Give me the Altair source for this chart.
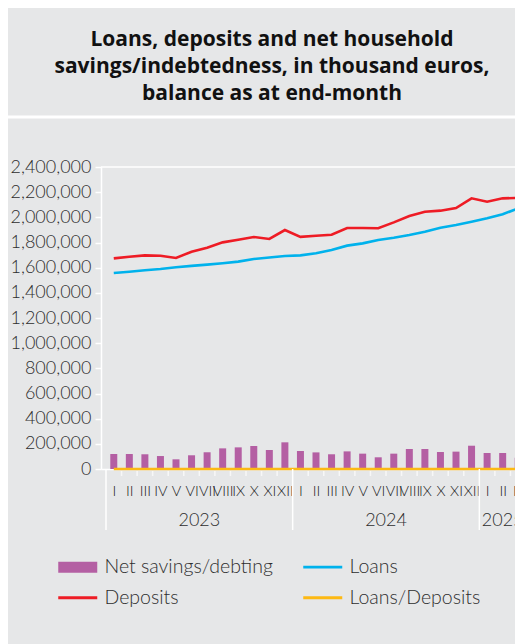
import json
import altair as alt
import pandas as pd

# ---------------- data ----------------
years = ["2023"] * 12 + ["2024"] * 12 + ["2025"] * 3
months = ["I", "II", "III", "IV", "V", "VI", "VII", "VIII", "IX", "X", "XI", "XII"] * 2 + ["I", "II", "III"]

deposits = [1674000, 1687000, 1698000, 1695000, 1677000, 1727000, 1759000, 1801000, 1822000, 1844000, 1828000, 1899000,
            1845000, 1854000, 1862000, 1915000, 1915000, 1913000, 1960000, 2011000, 2045000, 2053000, 2074000, 2151000,
            2124000, 2151000, 2154000]
loans = [1558000, 1568000, 1580000, 1590000, 1603000, 1614000, 1624000, 1635000, 1648000, 1669000, 1681000, 1693000,
         1698000, 1715000, 1740000, 1775000, 1793000, 1820000, 1838000, 1860000, 1886000, 1918000, 1939000, 1965000,
         1992000, 2024000, 2072000]
net_savings = [119000, 119000, 117000, 103000, 77000, 109000, 133000, 164000, 172000, 183000, 151000, 212000,
               143000, 132000, 117000, 140000, 122000, 93000, 122000, 159000, 159000, 135000, 138000, 185000,
               127000, 127000, 90000]
loans_to_deposits = [0.93, 0.93, 0.93, 0.94, 0.96, 0.93, 0.92, 0.91, 0.90, 0.91, 0.92, 0.89,
                     0.92, 0.93, 0.93, 0.93, 0.94, 0.95, 0.94, 0.92, 0.92, 0.93, 0.93, 0.91,
                     0.94, 0.94, 0.96]

y_ticks = [0, 200000, 400000, 600000, 800000, 1000000, 1200000, 1400000, 1600000, 1800000, 2000000, 2200000, 2400000]

# legend order (filled column by column)
series = ["Net savings/debting", "Deposits", "Loans", "Loans/Deposits"]
series_colors = ["#b45fa3", "#ee1c25", "#00b2ec", "#fdb913"]

title_lines = ["Loans, deposits and net household",
               "savings/indebtedness, in thousand euros,",
               "balance as at end-month"]

# ---------------- tables ----------------
n = len(months)
df = pd.DataFrame({
    "idx": list(range(n)),
    "year": years,
    "month": months,
    "Deposits": deposits,
    "Loans": loans,
    "Net": net_savings,
    "Ratio": loans_to_deposits,
})

year_names = list(dict.fromkeys(years))
year_df = pd.DataFrame({
    "year": year_names,
    "mid": [df.loc[df.year == y, "idx"].mean() for y in year_names],
    "start": [df.loc[df.year == y, "idx"].min() - 0.5 for y in year_names],
})
tick_df = pd.DataFrame({"b": [i - 0.5 for i in range(1, n)]})
tick_df = tick_df[~tick_df.b.isin(year_df.start)]
top_df = pd.DataFrame({"v": [max(y_ticks)]})
legend_df = pd.DataFrame({"series": series})

W, H = 430, 302
FONT = "Lato"
TXT = "#2e2e2e"

xscale = alt.Scale(domain=[-0.5, n - 0.5], nice=False, zero=False)
yscale = alt.Scale(domain=[0, max(y_ticks)], nice=False)

x_axis = alt.Axis(values=list(range(n)), labelExpr=f"{json.dumps(months)}[datum.value]",
                  ticks=False, tickSize=0, domainColor="white", domainWidth=1.5, grid=False, title=None,
                  labelFont=FONT, labelFontSize=14.5, labelFontWeight=300, labelColor="#222222",
                  labelPadding=15, labelOverlap=False, labelFlush=False)
y_axis = alt.Axis(values=y_ticks, labelExpr="format(datum.value, ',')", grid=False, title=None,
                  domainColor="white", domainWidth=1.5,
                  tickColor="white", tickSize=6, tickWidth=1.5, labelFont=FONT, labelFontSize=18,
                  labelFontWeight=300, labelColor=TXT, labelPadding=4)


def X(field):
    return alt.X(field, scale=xscale, axis=x_axis)


def Y(field):
    return alt.Y(field, scale=yscale, axis=y_axis)


base = alt.Chart(df)

bars = base.mark_bar(size=7, color="#b45fa3").encode(x=X("idx:Q"), y=Y("Net:Q"))


def line(col, color):
    return base.mark_line(color=color, strokeWidth=2.6).encode(x=X("idx:Q"), y=Y(f"{col}:Q"))


ratio_line = line("Ratio", "#fdb913")
loans_line = line("Loans", "#00b2ec")
dep_line = line("Deposits", "#ee1c25")

top_rule = alt.Chart(top_df).mark_rule(color="white", strokeWidth=1.5).encode(y=Y("v:Q"))

ticks = alt.Chart(tick_df).mark_rule(color="#f7f7f7", strokeWidth=1.5).encode(
    x=X("b:Q"), y=alt.value(H + 2), y2=alt.value(H + 7))

year_sep = alt.Chart(year_df).mark_rule(color="white", strokeWidth=1.5).encode(
    x=X("start:Q"), y=alt.value(H), y2=alt.value(H + 61))

year_text = alt.Chart(year_df).mark_text(font=FONT, fontSize=18, fontWeight=300, color=TXT,
                                         baseline="middle").encode(
    x=X("mid:Q"), y=alt.value(H + 52), text="year:N")

title_sep = alt.Chart(top_df).mark_rule(color="white", strokeWidth=3).encode(
    x=alt.value(-96), x2=alt.value(W + 20), y=alt.value(-50))

leg = alt.Legend(title=None, orient="none", legendX=-33, legendY=390, columns=2, columnPadding=30,
                 rowPadding=10, symbolSize=121, symbolStrokeWidth=0, symbolOpacity=1, labelOffset=17,
                 labelLimit=0, labelFont=FONT, labelFontSize=19.5, labelFontWeight=300, labelColor=TXT,
                 padding=0)
r = 3.545
paths = [f"M-{r},-1L{r},-1L{r},1L-{r},1Z"] + [f"M-{r},-0.27L{r},-0.27L{r},0.27L-{r},0.27Z"] * 3
legend_layer = alt.Chart(legend_df).mark_point(filled=True, opacity=0).encode(
    color=alt.Color("series:N", scale=alt.Scale(domain=series, range=series_colors), legend=leg),
    shape=alt.Shape("series:N", scale=alt.Scale(domain=series, range=paths), legend=leg),
)

chart = alt.layer(
    bars, top_rule, ratio_line, loans_line, dep_line, ticks, year_sep, year_text, title_sep, legend_layer,
).properties(
    width=W, height=H,
    title=alt.Title(text=title_lines, font="Open Sans", fontSize=21, fontWeight="bold", color="#111111",
                    lineHeight=27, anchor="middle", offset=12, dx=-44),
    background="#e6e7e8",
    autosize=alt.AutoSizeParams(type="none"),
    padding={"left": 93, "top": 159, "right": -16, "bottom": 175},
).configure_view(stroke=None)

chart.save("out.html", embed_options={"renderer": "svg", "actions": False})
